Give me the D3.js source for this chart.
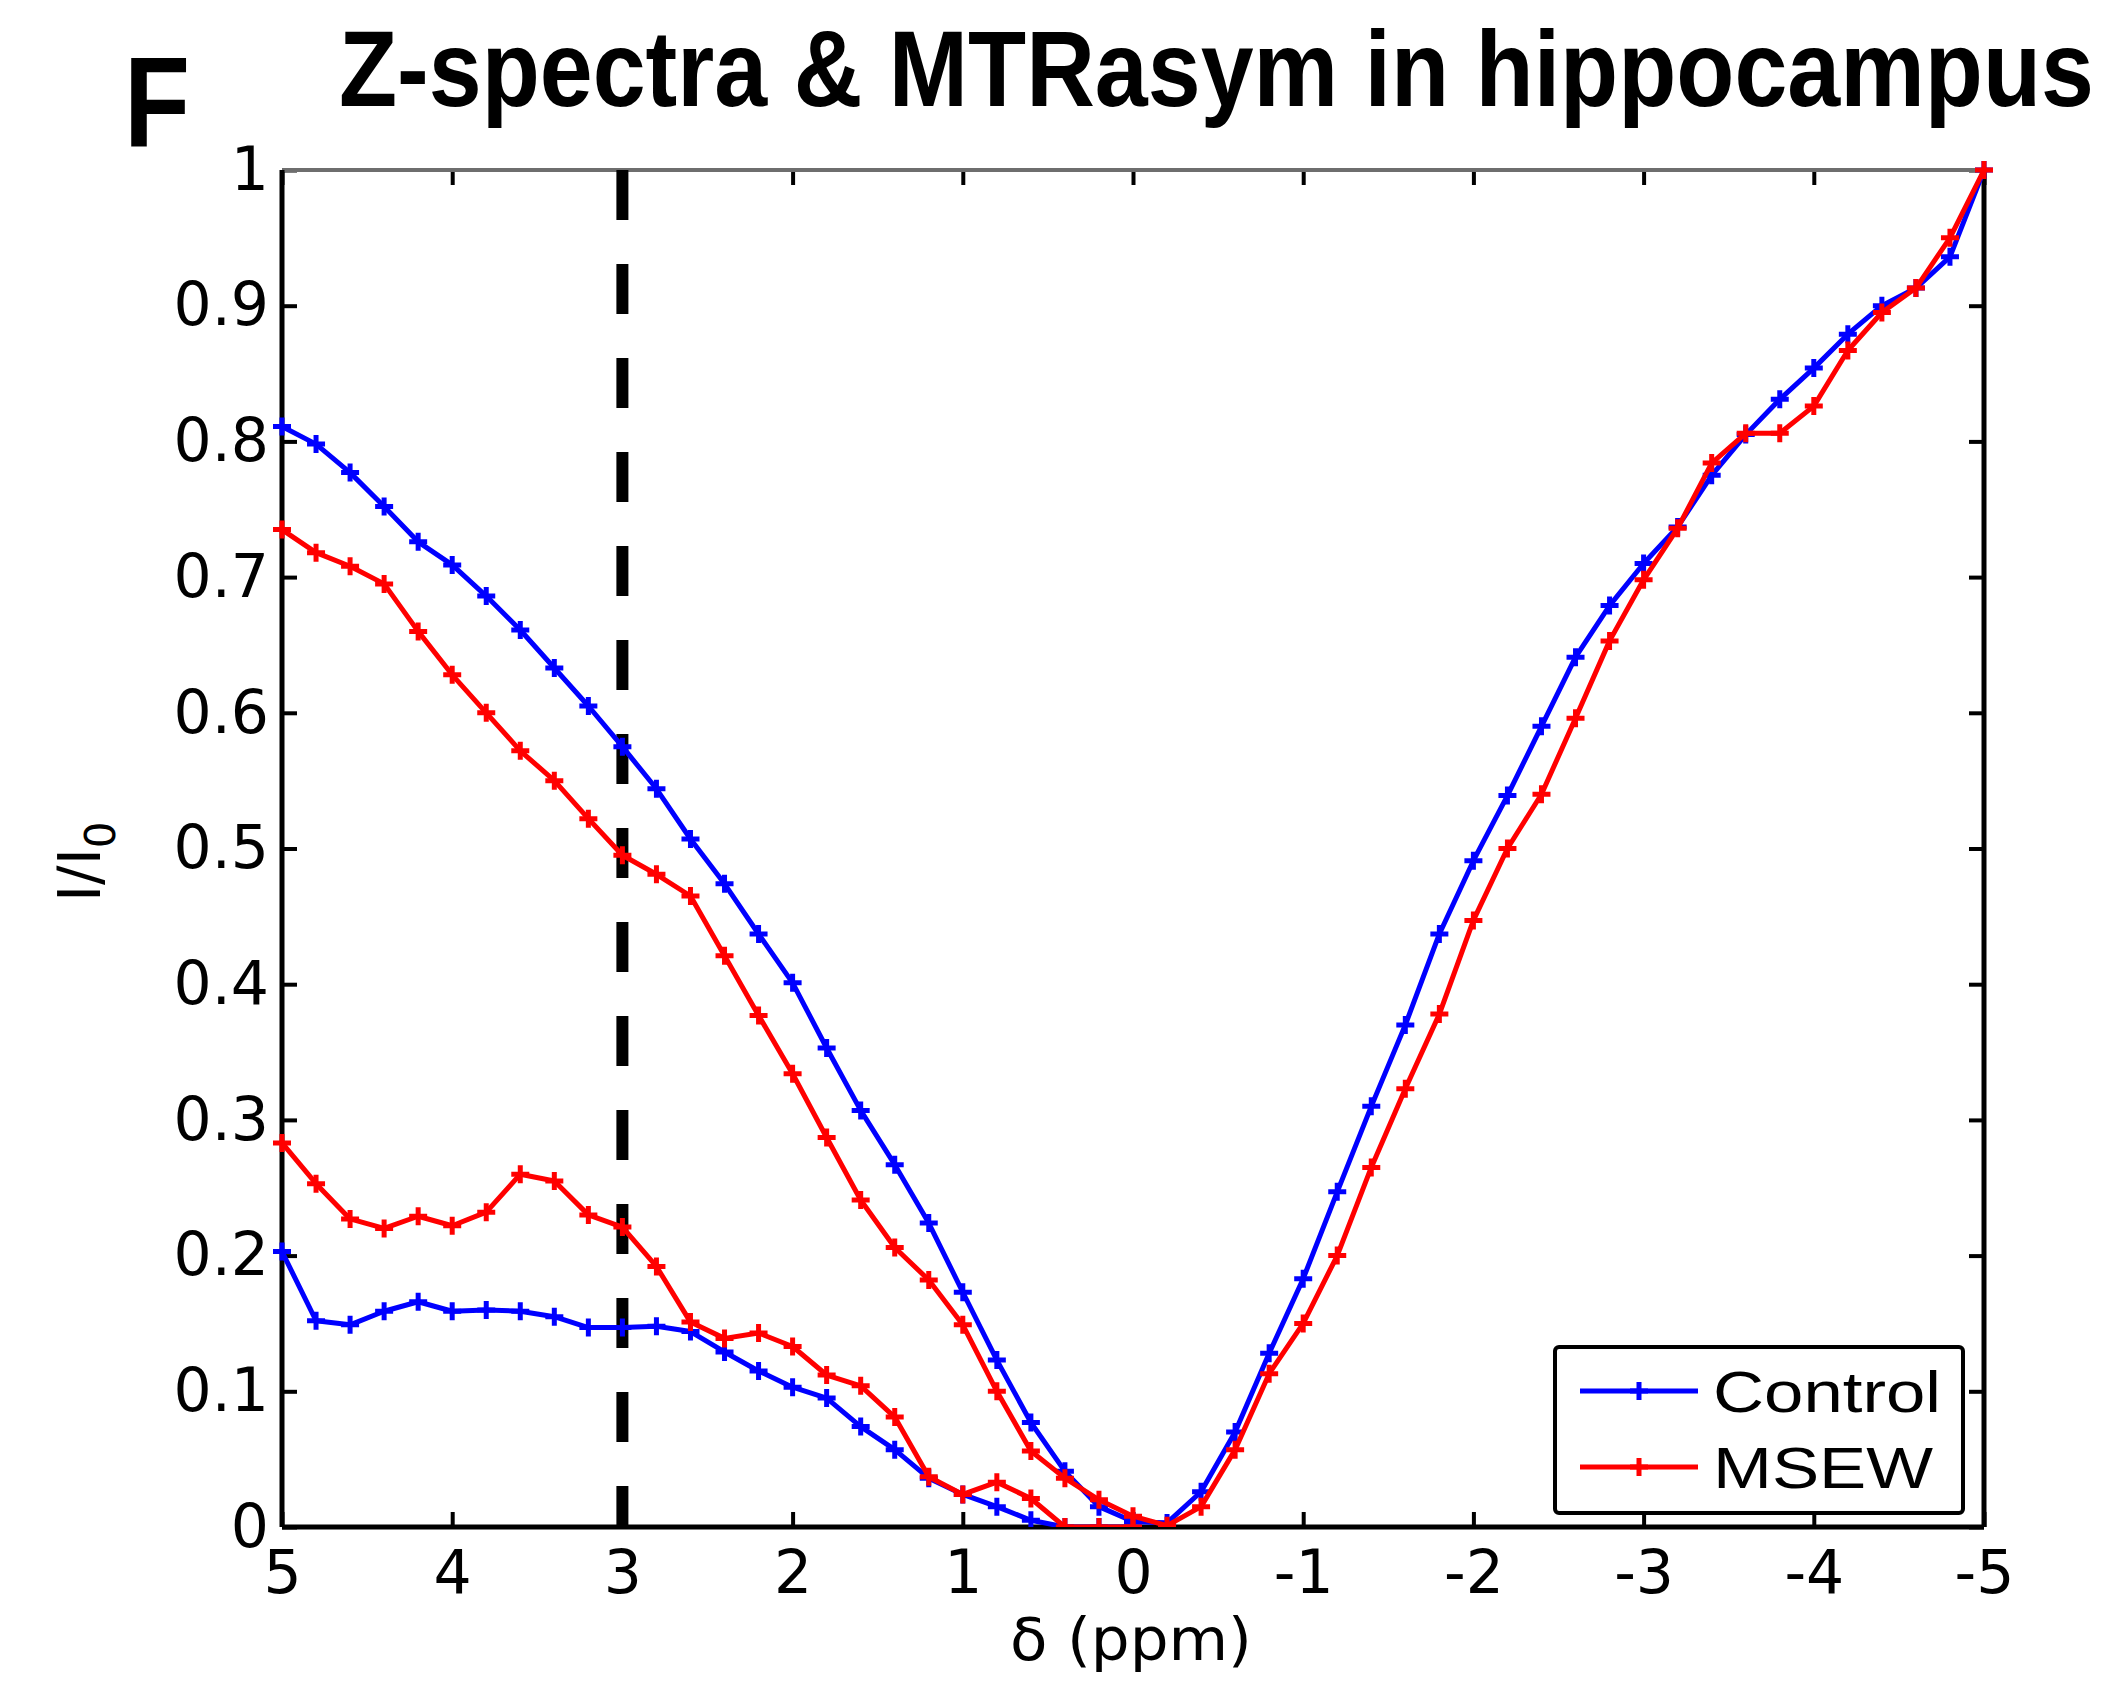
<!DOCTYPE html>
<html>
<head>
<meta charset="utf-8">
<script src="https://cdn.jsdelivr.net/npm/d3@7"></script>
<style>
  body { margin: 0; background: #fff; }
  svg { display: block; }
</style>
</head>
<body>
<div id="chart"></div>
<script>
// offsets in ppm, 5 -> -5
const ppm = [5, 4.8, 4.6, 4.4, 4.2, 4, 3.8, 3.6, 3.4, 3.2, 3, 2.8, 2.6, 2.4, 2.2, 2, 1.8, 1.6, 1.4, 1.2, 1,
  0.8, 0.6, 0.4, 0.2, 0, -0.2, -0.4, -0.6, -0.8, -1, -1.2, -1.4, -1.6, -1.8, -2, -2.2, -2.4, -2.6, -2.8, -3,
  -3.2, -3.4, -3.6, -3.8, -4, -4.2, -4.4, -4.6, -4.8, -5]
const ppmPos = [5, 4.8, 4.6, 4.4, 4.2, 4, 3.8, 3.6, 3.4, 3.2, 3, 2.8, 2.6, 2.4, 2.2, 2, 1.8, 1.6, 1.4, 1.2, 1,
  0.8, 0.6, 0.4, 0.2, 0]

// Z-spectra
const controlZ = [0.811, 0.798, 0.777, 0.752, 0.726, 0.709, 0.686, 0.661, 0.633, 0.605, 0.575, 0.544, 0.507,
  0.474, 0.437, 0.401, 0.353, 0.307, 0.267, 0.224, 0.173, 0.123, 0.077, 0.041, 0.015, 0.004, 0.003, 0.026,
  0.070, 0.128, 0.183, 0.247, 0.310, 0.370, 0.437, 0.491, 0.539, 0.590, 0.641, 0.679, 0.710, 0.737, 0.775,
  0.805, 0.831, 0.854, 0.879, 0.900, 0.913, 0.936, 1.0]
const msewZ = [0.735, 0.718, 0.708, 0.695, 0.660, 0.628, 0.600, 0.572, 0.550, 0.522, 0.495, 0.481, 0.465,
  0.421, 0.377, 0.334, 0.287, 0.241, 0.206, 0.182, 0.149, 0.100, 0.056, 0.036, 0.020, 0.008, 0.001, 0.015,
  0.057, 0.113, 0.150, 0.200, 0.265, 0.323, 0.378, 0.447, 0.500, 0.540, 0.596, 0.653, 0.698, 0.736, 0.784,
  0.806, 0.806, 0.826, 0.867, 0.895, 0.913, 0.950, 1.0]

// MTRasym
const controlAsym = [0.203, 0.152, 0.149, 0.159, 0.166, 0.159, 0.160, 0.159, 0.155, 0.147, 0.147, 0.148,
  0.144, 0.129, 0.115, 0.103, 0.095, 0.074, 0.057, 0.036, 0.024, 0.015, 0.005, 0, 0, 0]
const msewAsym = [0.283, 0.253, 0.227, 0.220, 0.229, 0.222, 0.232, 0.260, 0.255, 0.230, 0.221, 0.192,
  0.151, 0.139, 0.143, 0.133, 0.112, 0.104, 0.081, 0.037, 0.024, 0.033, 0.021, 0, 0, 0]

const xTicks = [5, 4, 3, 2, 1, 0, -1, -2, -3, -4, -5]
const yTicks = [0, 0.1, 0.2, 0.3, 0.4, 0.5, 0.6, 0.7, 0.8, 0.9, 1]
const seriesNames = ['Control', 'MSEW']
const seriesColors = ['#0000ff', '#ff0000']
const markerLine = 3 // dashed line position (ppm)

const sans = '"DejaVu Sans", sans-serif'
const helv = '"Liberation Sans", Arial, sans-serif'

const W = 2128
const H = 1688
const margin = {top: 170, right: 144, bottom: 161, left: 282}
const width = W - margin.left - margin.right
const height = H - margin.top - margin.bottom

const svg = d3.select('#chart').append('svg')
  .attr('width', W)
  .attr('height', H)

const g = svg.append('g')
  .attr('transform', 'translate(' + margin.left + ',' + margin.top + ')')

const x = d3.scaleLinear().domain([5, -5]).range([0, width])
const y = d3.scaleLinear().domain([0, 1]).range([height, 0])

g.append('clipPath').attr('id', 'plotclip')
  .append('rect').attr('x', -10).attr('y', -10).attr('width', width + 20).attr('height', height + 10)

// ticks on all four sides, pointing inward
const tickLen = 15
g.append('g')
  .attr('transform', 'translate(0,' + height + ')')
  .call(d3.axisBottom(x).tickValues(xTicks).tickSize(-tickLen).tickPadding(23).tickFormat(d => String(d)))
  .call(a => a.select('.domain').remove())
  .call(a => a.selectAll('line').attr('stroke', '#000').attr('stroke-width', 4))
  .call(a => a.selectAll('text').attr('font-size', 60).attr('font-family', sans).attr('fill', '#000'))
g.append('g')
  .call(d3.axisTop(x).tickValues(xTicks).tickSize(-tickLen).tickFormat(''))
  .call(a => a.select('.domain').remove())
  .call(a => a.selectAll('line').attr('stroke', '#000').attr('stroke-width', 4))
g.append('g')
  .call(d3.axisLeft(y).tickValues(yTicks).tickSize(-tickLen).tickPadding(13).tickFormat(d => String(d)))
  .call(a => a.select('.domain').remove())
  .call(a => a.selectAll('line').attr('stroke', '#000').attr('stroke-width', 4))
  .call(a => a.selectAll('text').attr('font-size', 60).attr('font-family', sans).attr('fill', '#000'))
g.append('g')
  .attr('transform', 'translate(' + width + ',0)')
  .call(d3.axisRight(y).tickValues(yTicks).tickSize(-tickLen).tickFormat(''))
  .call(a => a.select('.domain').remove())
  .call(a => a.selectAll('line').attr('stroke', '#000').attr('stroke-width', 4))

// frame
g.append('line').attr('x1', 0).attr('x2', width).attr('y1', 0).attr('y2', 0)
  .attr('stroke', '#6e6e6e').attr('stroke-width', 4)
g.append('line').attr('x1', width).attr('x2', width).attr('y1', 0).attr('y2', height)
  .attr('stroke', '#000').attr('stroke-width', 5)
g.append('line').attr('x1', 0).attr('x2', 0).attr('y1', 0).attr('y2', height)
  .attr('stroke', '#000').attr('stroke-width', 5)
g.append('line').attr('x1', 0).attr('x2', width).attr('y1', height).attr('y2', height)
  .attr('stroke', '#000').attr('stroke-width', 5)

// dashed line at 3 ppm
g.append('line')
  .attr('x1', x(markerLine)).attr('x2', x(markerLine))
  .attr('y1', y(1)).attr('y2', y(0))
  .attr('stroke', '#000').attr('stroke-width', 12)
  .attr('stroke-dasharray', '50,44')

const line = d3.line().x(d => x(d[0])).y(d => y(d[1]))
const curves = [
  {xs: ppm, ys: controlZ, color: seriesColors[0]},
  {xs: ppmPos, ys: controlAsym, color: seriesColors[0]},
  {xs: ppm, ys: msewZ, color: seriesColors[1]},
  {xs: ppmPos, ys: msewAsym, color: seriesColors[1]}
]
const plot = g.append('g').attr('clip-path', 'url(#plotclip)')
const ms = 9
curves.forEach(c => {
  const pts = c.xs.map((v, i) => [v, c.ys[i]])
  plot.append('path')
    .datum(pts)
    .attr('d', line)
    .attr('fill', 'none')
    .attr('stroke', c.color)
    .attr('stroke-width', 5)
    .attr('stroke-linejoin', 'round')
  plot.selectAll(null)
    .data(pts)
    .enter()
    .append('path')
    .attr('d', d => 'M' + (x(d[0]) - ms) + ',' + y(d[1]) + 'h' + 2 * ms +
      'M' + x(d[0]) + ',' + (y(d[1]) - ms) + 'v' + 2 * ms)
    .attr('stroke', c.color)
    .attr('stroke-width', 5)
})

// legend
const lg = svg.append('g').attr('transform', 'translate(1555,1347)')
lg.append('rect').attr('width', 408).attr('height', 166).attr('rx', 4)
  .attr('fill', '#fff').attr('stroke', '#000').attr('stroke-width', 4)
seriesNames.forEach((name, i) => {
  const ly = 44 + i * 76
  lg.append('line').attr('x1', 25).attr('x2', 143).attr('y1', ly).attr('y2', ly)
    .attr('stroke', seriesColors[i]).attr('stroke-width', 5)
  lg.append('path')
    .attr('d', 'M' + (84 - ms) + ',' + ly + 'h' + 2 * ms + 'M84,' + (ly - ms) + 'v' + 2 * ms)
    .attr('stroke', seriesColors[i]).attr('stroke-width', 5)
  lg.append('text')
    .attr('x', 158).attr('y', ly + 21)
    .attr('font-family', helv)
    .attr('font-size', 58)
    .attr('textLength', i === 0 ? 228 : 220)
    .attr('lengthAdjust', 'spacingAndGlyphs')
    .text(name)
})

// axis labels
svg.append('text')
  .attr('x', 1010).attr('y', 1660)
  .attr('font-family', sans)
  .attr('font-size', 58)
  .attr('textLength', 242)
  .attr('lengthAdjust', 'spacingAndGlyphs')
  .text('δ (ppm)')
const yl = svg.append('text')
  .attr('transform', 'translate(100,902) rotate(-90)')
  .attr('font-family', sans)
  .attr('font-size', 58)
yl.append('tspan').text('I/I')
yl.append('tspan').attr('font-size', 42).attr('dy', 15).text('0')

// title and panel letter: squeezed horizontally to the reference width
const title = svg.append('text')
  .attr('font-family', helv)
  .attr('font-weight', 'bold')
  .attr('font-size', 108)
  .text('Z-spectra & MTRasym in hippocampus')
const tw = title.node().getComputedTextLength()
title.attr('transform', 'translate(339,106) scale(' + (1755 / tw) + ',1)')

const letter = svg.append('text')
  .attr('font-family', helv)
  .attr('font-weight', 'bold')
  .attr('font-size', 128)
  .text('F')
const fw = letter.node().getComputedTextLength()
letter.attr('transform', 'translate(124,146) scale(' + (66 / fw) + ',1)')
</script>
</body>
</html>
